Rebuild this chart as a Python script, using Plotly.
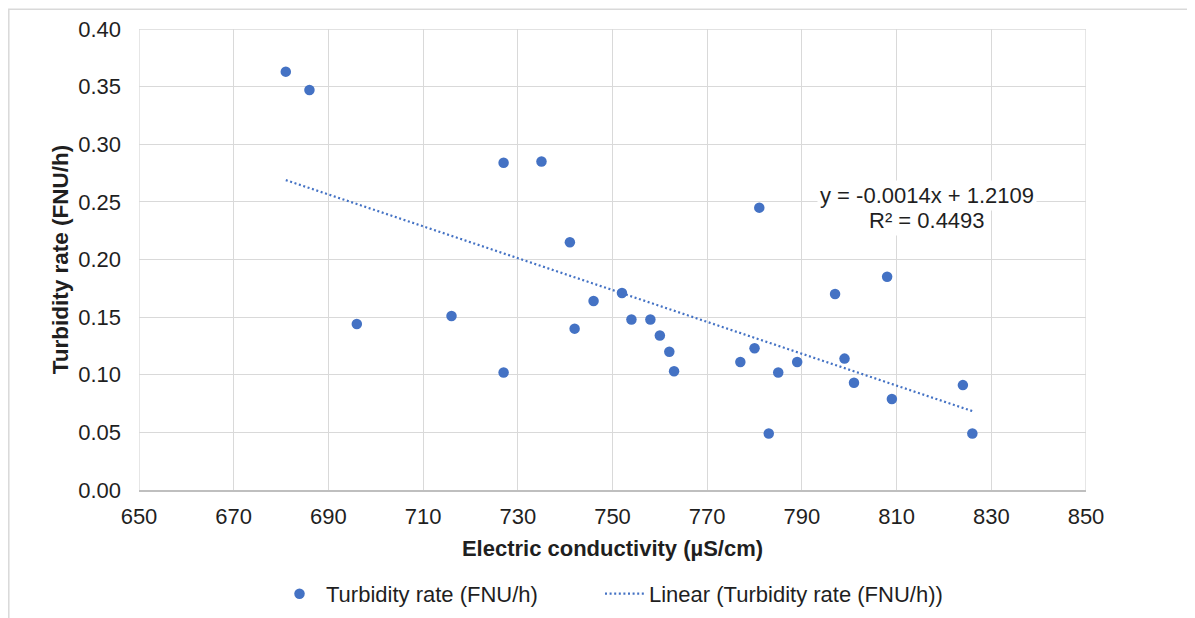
import numpy as np
import plotly.graph_objects as go

# Data
conductivity = [681, 686, 727, 735, 781, 741, 696, 716, 727, 742, 746, 752, 754, 758, 760,
                762, 763, 777, 780, 785, 783, 789, 797, 808, 799, 801, 809, 824, 826]
turbidity = [0.363, 0.347, 0.284, 0.285, 0.245, 0.215, 0.144, 0.151, 0.102, 0.140, 0.164, 0.171,
             0.148, 0.148, 0.134, 0.120, 0.103, 0.111, 0.123, 0.102, 0.049, 0.111, 0.170, 0.185,
             0.114, 0.093, 0.079, 0.091, 0.049]
x_ticks = [650, 670, 690, 710, 730, 750, 770, 790, 810, 830, 850]
y_ticks = [0.00, 0.05, 0.10, 0.15, 0.20, 0.25, 0.30, 0.35, 0.40]
series_name = "Turbidity rate (FNU/h)"
trend_name = "Linear (Turbidity rate (FNU/h))"
equation_line = "y = -0.0014x + 1.2109"
r2_line = "R² = 0.4493"

BLUE = "#4472C4"
GRID = "#d9d9d9"
FONT = "Arial, Liberation Sans, sans-serif"
TXT = "#1f1f1f"

# linear trend from the data
slope, intercept = np.polyfit(conductivity, turbidity, 1)
trend_x = [min(conductivity), max(conductivity)]
trend_y = [slope * v + intercept for v in trend_x]

fig = go.Figure()
fig.add_trace(go.Scatter(
    x=conductivity, y=turbidity, mode="markers", name=series_name,
    marker=dict(color=BLUE, size=10.5, line=dict(width=0)), legend="legend",
))
fig.add_trace(go.Scatter(
    x=trend_x, y=trend_y, mode="lines", name=trend_name,
    line=dict(color=BLUE, width=2.2, dash="2px,2.6px"), legend="legend2",
))

for txt, yy in [(equation_line, 0.2557), (r2_line, 0.2340)]:
    fig.add_annotation(
        x=816.5, y=yy, xref="x", yref="y", text=txt, showarrow=False,
        font=dict(family=FONT, size=22, color=TXT), bgcolor="white", align="center",
        borderpad=2,
    )

# outer chart border (page body has an 8px offset)
fig.add_shape(type="rect", xref="paper", yref="paper",
              x0=-0.1375, x1=1.13, y0=-0.32, y1=1.0428,
              line=dict(color=GRID, width=1.5), fillcolor="rgba(0,0,0,0)", layer="below")

legend_common = dict(orientation="h", xanchor="left", yanchor="middle", y=-0.2254,
                     font=dict(size=22, color=TXT), bgcolor="rgba(0,0,0,0)", borderwidth=0)

fig.update_layout(
    width=1195, height=618,
    margin=dict(l=131, r=117, t=20.5, b=136, autoexpand=False),
    paper_bgcolor="white", plot_bgcolor="white",
    font=dict(family=FONT, size=22, color=TXT),
    showlegend=True,
    legend=dict(x=0.1415, itemwidth=43, **legend_common),
    legend2=dict(x=0.4868, itemwidth=39, **legend_common),
    xaxis=dict(
        range=[650, 850], tickvals=x_ticks, ticktext=[str(v) for v in x_ticks],
        showgrid=True, gridcolor=GRID, gridwidth=1.3, zeroline=False,
        showline=True, linecolor="#bfbfbf", linewidth=1.5, mirror=False,
        ticks="", ticklabelstandoff=6, automargin=False,
        tickfont=dict(size=22, color=TXT),
        title=dict(text="<b>Electric conductivity (µS/cm)</b>", font=dict(size=22, color=TXT), standoff=12),
    ),
    yaxis=dict(
        range=[0, 0.40], tickvals=y_ticks, ticktext=[f"{v:.2f}" for v in y_ticks],
        showgrid=True, gridcolor=GRID, gridwidth=1.3, zeroline=False,
        showline=False, ticks="", ticklabelstandoff=17, automargin=False,
        tickfont=dict(size=22, color=TXT),
        title=dict(text="<b>Turbidity rate (FNU/h)</b>", font=dict(size=22.5, color=TXT), standoff=3),
    ),
)
# plot-area edge gridlines at range ends
fig.add_shape(type="line", xref="x", yref="y", x0=850, x1=850, y0=0, y1=0.40,
              line=dict(color=GRID, width=1.3), layer="below")
fig.add_shape(type="line", xref="x", yref="y", x0=650, x1=650, y0=0, y1=0.40,
              line=dict(color=GRID, width=1.3), layer="below")
fig.add_shape(type="line", xref="x", yref="y", x0=650, x1=850, y0=0.40, y1=0.40,
              line=dict(color=GRID, width=1.3), layer="below")

fig.write_html("out.html")
